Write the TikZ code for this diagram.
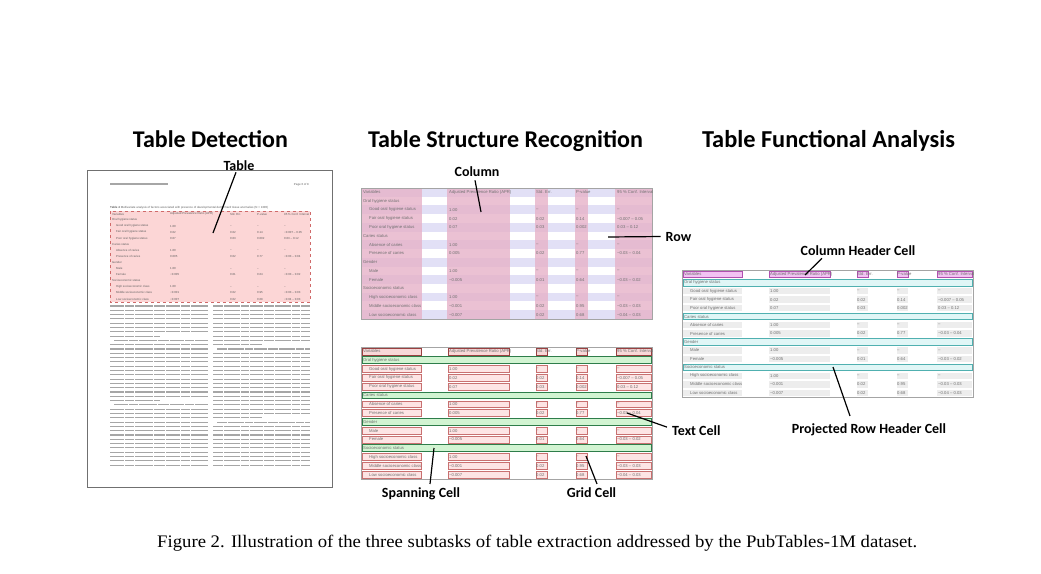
\documentclass[tikz,border=0pt]{standalone}
\usepackage{fontspec}
\setmainfont{Liberation Serif}
\newfontfamily\lblfont{Carlito}
\newfontfamily\cellfont{Liberation Sans}
\usetikzlibrary{calc}
\definecolor{celltext}{HTML}{707070}
\definecolor{pagetext}{HTML}{606060}
\definecolor{lavrow}{HTML}{E2E0F6}
\definecolor{pinkcol}{HTML}{E6B2C8}
\definecolor{tabframe}{HTML}{A4A4A4}
\definecolor{pageframe}{HTML}{707070}
\definecolor{detfill}{HTML}{FCD6D6}
\definecolor{detline}{HTML}{D06A6A}
\definecolor{hdrfill}{HTML}{F8D8D8}
\definecolor{hdrline}{HTML}{9A4040}
\definecolor{spanfill}{HTML}{D2F4D2}
\definecolor{spanline}{HTML}{2E7D4A}
\definecolor{gridfill}{HTML}{FDE4E4}
\definecolor{gridline}{HTML}{C87070}
\definecolor{chfill}{HTML}{F2C2F2}
\definecolor{chline}{HTML}{B050B0}
\definecolor{prhfill}{HTML}{E0F6F6}
\definecolor{prhline}{HTML}{50B0B0}
\definecolor{datafill}{HTML}{EDEDED}
\definecolor{bodytext}{HTML}{A6A6A6}

\def\tabrows{%
0/h/Variables/Adjusted Prevalence Ratio (APR)/Std. Err./P-value/95 \% Conf. Interval,%
1/s/Oral hygiene status/{}/{}/{}/{},%
2/d/Good oral hygiene status/1.00/–/–/–,%
3/d/Fair oral hygiene status/0.02/0.02/0.14/−0.007 – 0.05,%
4/d/Poor oral hygiene status/0.07/0.03/0.002/0.03 – 0.12,%
5/s/Caries status/{}/{}/{}/{},%
6/d/Absence of caries/1.00/–/–/–,%
7/d/Presence of caries/0.005/0.02/0.77/−0.03 – 0.04,%
8/s/Gender/{}/{}/{}/{},%
9/d/Male/1.00/–/–/–,%
10/d/Female/−0.005/0.01/0.64/−0.03 – 0.02,%
11/s/Socioeconomic status/{}/{}/{}/{},%
12/d/High socioeconomic class/1.00/–/–/–,%
13/d/Middle socioeconomic class/−0.001/0.02/0.95/−0.03 – 0.03,%
14/d/Low socioeconomic class/−0.007/0.02/0.68/−0.04 – 0.03}

\tikzset{
  tasktitle/.style={font=\lblfont\bfseries\fontsize{22}{22}\selectfont, inner sep=0, anchor=base},
  callout/.style={font=\lblfont\bfseries\fontsize{14}{14}\selectfont, inner sep=0, anchor=base},
  pointer/.style={line width=1.2pt, black},
  cell/.style={font=\cellfont\fontsize{4.2}{4.2}\selectfont, text=celltext, inner sep=0, anchor=west},
  minicell/.style={font=\cellfont\fontsize{2.9}{2.9}\selectfont, text=pagetext, inner sep=0, anchor=west},
  hdrbox/.style={draw=hdrline, fill=hdrfill, line width=0.6pt},
  spanbox/.style={draw=spanline, fill=spanfill, line width=0.9pt},
  gridbox/.style={draw=gridline, fill=gridfill, line width=0.5pt},
  chbox/.style={draw=chline, fill=chfill, line width=0.6pt},
  prhbox/.style={draw=prhline, fill=prhfill, line width=0.8pt},
  databox/.style={draw=none, fill=datafill},
}

% cell texts of a 291-wide table: prefix, X, Y, row pitch
\newcommand\puttexts[4]{%
  \foreach \i/\ty/\va/\vb/\vc/\vd/\ve in \tabrows {
    \if\ty d\def\ind{8}\else\def\ind{2}\fi
    \pgfmathsetmacro\yy{#3+(\i+0.5)*#4}
    \node[cell] (#1-\i-a) at ({#2+\ind},\yy) {\va};
    \node[cell] (#1-\i-b) at ({#2+88},\yy) {\vb};
    \node[cell] (#1-\i-c) at ({#2+175},\yy) {\vc};
    \node[cell] (#1-\i-d) at ({#2+215},\yy) {\vd};
    \node[cell] (#1-\i-e) at ({#2+256},\yy) {\ve};
  }%
}
% boxed table: X, Y, pitch, header style, span style, data style
\newcommand\boxtable[6]{%
  \fill[white] (#1,#2) rectangle ({#1+291},{#2+15*#3});
  \draw[tabframe, line width=0.8pt] (#1,#2) rectangle ({#1+291},{#2+15*#3});
  \foreach \i/\ty/\va/\vb/\vc/\vd/\ve in \tabrows {
    \if\ty s
      \draw[#5] ({#1+1},{#2+\i*#3+1}) rectangle ({#1+290},{#2+(\i+1)*#3-1});
    \else
      \if\ty h
        \foreach \lft/\rgt in {0/61,86/149,174/187,214/227,254/291}
          \draw[#4] ({#1+\lft+1},{#2+\i*#3+1}) rectangle ({#1+\rgt-1},{#2+(\i+1)*#3-1});
      \else
        \foreach \lft/\rgt in {0/61,86/149,174/187,214/227,254/291}
          \draw[#6] ({#1+\lft+1},{#2+\i*#3+1}) rectangle ({#1+\rgt-1},{#2+(\i+1)*#3-1});
      \fi
    \fi
  }%
}

\begin{document}
\begin{tikzpicture}[x={(1pt,0)}, y={(0,-1pt)}]
\useasboundingbox (0,0) rectangle (1041,573);
\fill[white] (0,0) rectangle (1041,573);

% ---------- titles ----------
\node[tasktitle] (title-det) at (210.5,147) {\resizebox{155pt}{!}{Table Detection}};
\node[tasktitle] (title-tsr) at (505.5,147) {\resizebox{275pt}{!}{Table Structure Recognition}};
\node[tasktitle] (title-tfa) at (828.5,147) {\resizebox{253pt}{!}{Table Functional Analysis}};

% ---------- Table detection: page ----------
\draw[pageframe, line width=0.9pt, fill=white] (87,170) rectangle (332,487);
\draw[bodytext, line width=1.1pt] (110,184) -- (168,184);
\node[minicell, anchor=east] (pg-num) at (309,185) {Page 6 of 8};
\node[minicell] (pg-cap) at (110,207.5) {\textbf{Table 4} Multivariate analysis of factors associated with presence of developmental dental hard tissue anomalies (N = 1300)};
\draw[detline, dashed, line width=0.6pt, fill=detfill] (110,211) rectangle (310,302);
\foreach \i/\ty/\va/\vb/\vc/\vd/\ve in \tabrows {
  \if\ty d\def\ind{6}\else\def\ind{2}\fi
  \pgfmathsetmacro\yy{211+(\i+0.5)*6.07}
  \node[minicell] (pg-\i-a) at ({110+\ind},\yy) {\va};
  \node[minicell] (pg-\i-b) at (170,\yy) {\vb};
  \node[minicell] (pg-\i-c) at (230,\yy) {\vc};
  \node[minicell] (pg-\i-d) at (257,\yy) {\vd};
  \node[minicell] (pg-\i-e) at (284,\yy) {\ve};
}
% body text (unreadable at this size): drawn as text lines
\foreach \k in {0,...,37} {
  \pgfmathsetmacro\yy{306+\k*4.3}
  \pgfmathsetmacro\lst{(\k==8||\k==23)?4:0}
  \pgfmathsetmacro\lend{(\k==7||\k==22)?160:208}
  \draw[bodytext, line width=1.1pt, dash pattern=on 14pt off 1pt on 9pt off 1pt on 18pt off 1pt on 11pt off 1pt] ({110+\lst},\yy) -- (\lend,\yy);
  \pgfmathsetmacro\rst{(\k==10||\k==27)?4:0}
  \pgfmathsetmacro\rend{(\k==9||\k==26)?262:310}
  \draw[bodytext, line width=1.1pt, dash pattern=on 10pt off 1pt on 16pt off 1pt on 8pt off 1pt on 13pt off 1pt] ({213+\rst},\yy) -- (\rend,\yy);
}

% ---------- Table structure recognition: top (rows/columns) ----------
\fill[white] (361,188) rectangle (652,318.95);
\foreach \i in {0,2,...,14}
  \fill[lavrow] (361,{188+\i*8.73}) rectangle (652,{188+(\i+1)*8.73});
\foreach \lft/\rgt in {0/61,86/149,174/187,214/227,254/291}
  \fill[pinkcol, opacity=0.8] ({361+\lft},188) rectangle ({361+\rgt},318.95);
\draw[tabframe, line width=0.8pt] (361,188) rectangle (652,318.95);
\puttexts{mt}{361}{188}{8.73}

% ---------- Table structure recognition: bottom (cells) ----------
\boxtable{361}{347}{8.8}{hdrbox}{spanbox}{gridbox}
\puttexts{mb}{361}{347}{8.8}

% ---------- Table functional analysis ----------
\boxtable{682}{270}{8.47}{chbox}{prhbox}{databox}
\puttexts{fa}{682}{270}{8.47}

% ---------- callouts ----------
\node[callout] (lbl-table) at (239,170) {Table};
\node[callout] (lbl-col) at (477,176) {Column};
\node[callout] (lbl-row) at (678.5,241) {Row};
\node[callout] (lbl-span) at (421,497) {Spanning Cell};
\node[callout] (lbl-grid) at (591.5,497) {Grid Cell};
\node[callout, anchor=base west] (lbl-text) at (672,435) {Text Cell};
\node[callout] (lbl-ch) at (858,255) {Column Header Cell};
\node[callout] (lbl-prh) at (869,433) {Projected Row Header Cell};

\coordinate (tgt-table) at (213,233);
\coordinate (tgt-col) at (481,212);
\coordinate (tgt-row) at (608,237);
\coordinate (tgt-span) at (434,448);
\coordinate (tgt-grid) at (586,456);
\coordinate (tgt-text) at (627,413);
\coordinate (tgt-ch) at (805,275);
\coordinate (tgt-prh) at (833,367);

\draw[pointer] ([xshift=-3pt,yshift=-2pt]lbl-table.south) -- (tgt-table);
\draw[pointer] ([xshift=-2pt,yshift=-4pt]lbl-col.south) -- (tgt-col);
\draw[pointer] ([xshift=-5pt]lbl-row.west) -- (tgt-row);
\draw[pointer] ([xshift=9pt,yshift=3pt]lbl-span.north) -- (tgt-span);
\draw[pointer] ([xshift=5.5pt,yshift=3pt]lbl-grid.north) -- (tgt-grid);
\draw[pointer] ([xshift=-5pt,yshift=3pt]lbl-text.west) -- (tgt-text);
\draw[pointer] ([xshift=-36pt,yshift=-3pt]lbl-ch.south) -- (tgt-ch);
\draw[pointer] ([xshift=-19pt,yshift=7pt]lbl-prh.north) -- (tgt-prh);

% ---------- caption ----------
\node[anchor=base west, inner sep=0] (caption) at (157,547) {\resizebox{760pt}{12.4pt}{\fontsize{18}{18}\selectfont Figure 2. Illustration of the three subtasks of table extraction addressed by the PubTables-1M dataset.}};
\end{tikzpicture}
\end{document}
